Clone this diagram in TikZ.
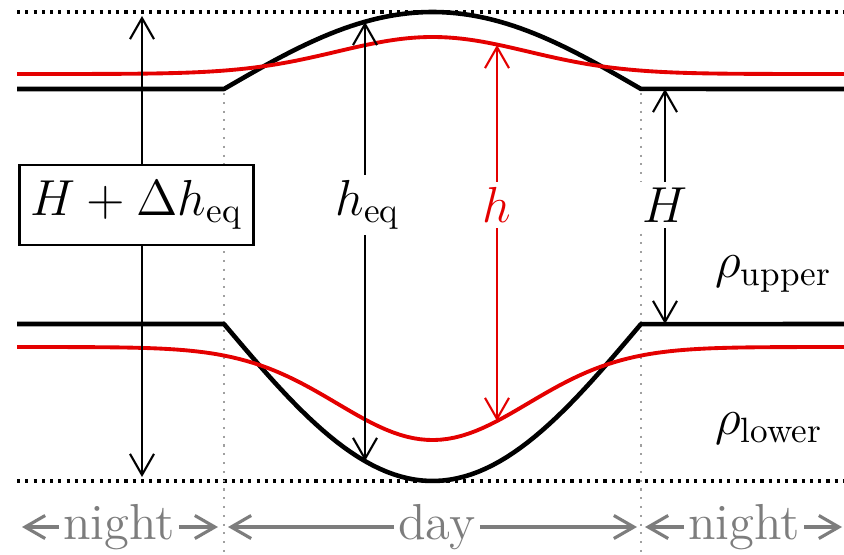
\documentclass[tikz,border=0pt]{standalone}
\usepackage{amsmath}
\usepackage{tikz}
\usetikzlibrary{arrows.meta, positioning, calc}
\definecolor{mygrey}{RGB}{125,125,125}
\definecolor{mylight}{RGB}{160,160,160}
\definecolor{myred}{RGB}{228,0,0}
\tikzset{
  interface/.style={line width=1.3pt, color=black, line join=round},
  redinterface/.style={line width=1.1pt, color=myred},
  limit/.style={line width=0.9pt, dash pattern=on 0.9pt off 1.45pt},
  daylimit/.style={line width=0.6pt, color=mylight, dash pattern=on 0.6pt off 1.9pt},
  harrow/.style={{Straight Barb[length=2.1mm,width=2.4mm]}-{Straight Barb[length=2.1mm,width=2.4mm]},
    line width=0.6pt},
  timearrow/.style={-{Straight Barb[length=2mm,width=2.3mm]}, line width=0.9pt, color=mygrey},
  hlabel/.style={fill=white, inner sep=1.5pt, font=\Large},
  totalbox/.style={draw, fill=white, line width=0.8pt, inner xsep=0.11cm,
    minimum height=0.8cm, font=\Large},
  timelabel/.style={inner sep=1pt, font=\Large, text=mygrey}
}

\begin{document}
\begin{tikzpicture}
  \useasboundingbox (0,0) rectangle (8.44,5.54);
  % extremes of the equilibrium interfaces
  \draw[limit] (0.17,5.42) -- (8.44,5.42);
  \draw[limit] (0.17,0.73) -- (8.44,0.73);
  % day / night boundaries
  \draw[daylimit] (2.24,4.61) -- (2.24,0);
  \draw[daylimit] (6.41,4.61) -- (6.41,0);
  % equilibrium interfaces
  \draw[interface] (0.17,4.65) -- (2.24,4.65)
    -- plot[domain=2.24:6.41, samples=60] (\x,{4.65+0.77*sin(180*(\x-2.24)/4.17)})
    -- (8.44,4.65);
  \draw[interface] (0.17,2.30) -- (2.24,2.30)
    -- plot[domain=2.24:6.41, samples=60] (\x,{2.30-1.57*sin(180*(\x-2.24)/4.17)})
    -- (8.44,2.30);
  % actual interfaces
  \draw[redinterface] plot[domain=0.17:8.44, samples=120]
    (\x,{4.80+0.37*exp(-pow((\x-4.325)/1.35,2))});
  \draw[redinterface] plot[domain=0.17:8.44, samples=120]
    (\x,{2.07-0.93*exp(-pow((\x-4.325)/1.35,2))});

  % total thickness
  \coordinate (totTop) at (1.42,5.38);
  \coordinate (totBot) at (1.42,0.77);
  \draw[harrow] (totBot) -- (totTop);
  \node[totalbox] (total) at (1.365,3.49) {$H+\Delta h_{\text{eq}}$};
  % equilibrium thickness
  \coordinate (eqTop) at (3.65,5.32);
  \coordinate (eqBot) at (3.65,0.93);
  \draw[harrow] (eqBot) -- (eqTop);
  \node[hlabel] (heq) at (3.68,3.49) {$h_{\text{eq}}$};
  % actual thickness
  \coordinate (hTop) at (4.97,5.09);
  \coordinate (hBot) at (4.97,1.33);
  \draw[harrow, myred] (hBot) -- (hTop);
  \node[hlabel, text=myred] (h) at (4.97,3.49) {$h$};
  % night thickness
  \coordinate (HTop) at (6.65,4.65);
  \coordinate (HBot) at (6.65,2.30);
  \draw[harrow] (HBot) -- (HTop);
  \node[hlabel] (H) at (6.65,3.49) {$H$};

  % layers
  \node[font=\Large, anchor=west] (upper) at (7.03,2.80) {$\rho_{\text{upper}}$};
  \node[font=\Large, anchor=west] (lower) at (7.03,1.25) {$\rho_{\text{lower}}$};

  % time axis
  \node[timelabel] (night1) at (1.19,0.27) {night};
  \node[timelabel] (day) at (4.37,0.27) {day};
  \node[timelabel] (night2) at (7.44,0.27) {night};
  \coordinate (n1L) at (0.22,0.27);
  \coordinate (n1R) at (2.18,0.27);
  \coordinate (dL) at (2.28,0.27);
  \coordinate (dR) at (6.37,0.27);
  \coordinate (n2L) at (6.45,0.27);
  \coordinate (n2R) at (8.42,0.27);
  \draw[timearrow] (night1) -- (n1L);
  \draw[timearrow] (night1) -- (n1R);
  \draw[timearrow] (day) -- (dL);
  \draw[timearrow] (day) -- (dR);
  \draw[timearrow] (night2) -- (n2L);
  \draw[timearrow] (night2) -- (n2R);
\end{tikzpicture}
\end{document}
